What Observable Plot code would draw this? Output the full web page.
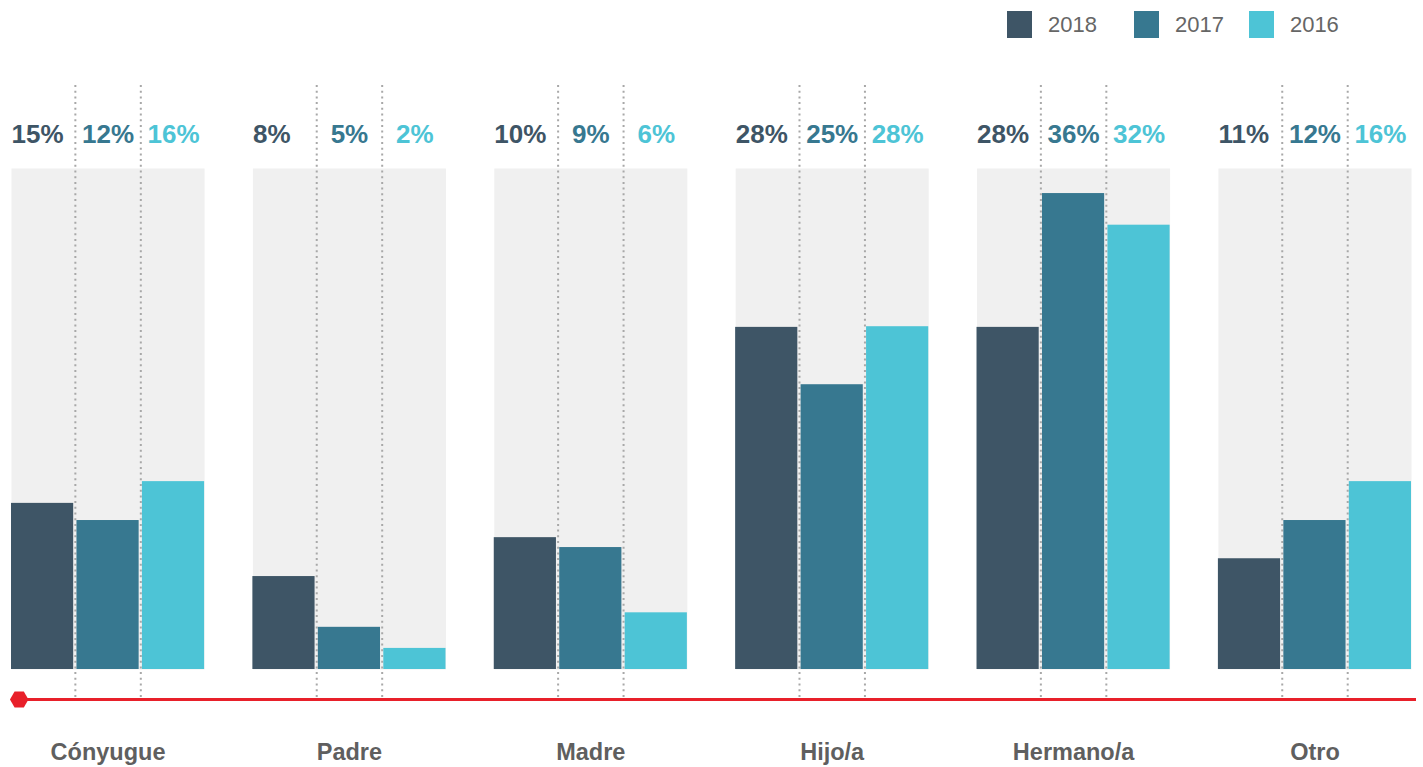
<!DOCTYPE html>
<html>
<head>
<meta charset="utf-8">
<script src="https://cdn.jsdelivr.net/npm/d3@7"></script>
<script src="https://cdn.jsdelivr.net/npm/@observablehq/plot@0.6"></script>
<style>
  html, body { margin: 0; padding: 0; background: #fff; }
  #wrap { position: relative; width: 1423px; height: 767px; font-family: "Liberation Sans", Arial, Helvetica, sans-serif; }
  #legend { position: absolute; top: 11px; left: 1007px; display: flex; align-items: center; }
  .item { display: flex; align-items: center; }
  .sw { width: 25px; height: 27px; display: inline-block; }
  .lab { font-size: 22px; color: #666; margin-left: 16px; }
  #chart { position: absolute; top: 0; left: 0; }
</style>
</head>
<body>
<div id="wrap">
  <div id="chart"></div>
  <div id="legend"></div>
</div>
<script>
const categories = ["Cónyugue", "Padre", "Madre", "Hijo/a", "Hermano/a", "Otro"];
const years = ["2018", "2017", "2016"];
const colors = ["#3e5566", "#377890", "#4dc4d6"];
// bar heights as drawn
const bars2018 = [12.6, 7.05, 10.0, 25.95, 25.95, 8.4];
const bars2017 = [11.3, 3.2, 9.25, 21.6, 36.1, 11.3];
const bars2016 = [14.25, 1.6, 4.3, 26.0, 33.7, 14.25];
// printed percentages
const pct2018 = [15, 8, 10, 28, 28, 11];
const pct2017 = [12, 5, 9, 25, 36, 12];
const pct2016 = [16, 2, 6, 28, 32, 16];
const yMax = 38;

const barsByYear = {"2018": bars2018, "2017": bars2017, "2016": bars2016};
const pctByYear = {"2018": pct2018, "2017": pct2017, "2016": pct2016};
const rows = [];
categories.forEach((c, i) => years.forEach(y => rows.push({cat: c, year: y, v: barsByYear[y][i], label: pctByYear[y][i] + "%"})));

const font = "'Liberation Sans', Arial, Helvetica, sans-serif";
const first = categories[0], last = categories[categories.length - 1];
const middle = categories.slice(1, -1);

const chart = Plot.plot({
  width: 1423,
  height: 767,
  marginTop: 168,
  marginBottom: 98,
  marginLeft: 11,
  marginRight: 12,
  style: {fontFamily: font, background: "transparent"},
  fx: {domain: categories, paddingInner: 0.2, paddingOuter: 0, round: false, axis: null, label: null},
  x: {domain: years, paddingInner: 0.05, paddingOuter: 0, round: false, axis: null, label: null},
  y: {domain: [0, yMax], axis: null, label: null},
  color: {domain: years, range: colors},
  marks: [
    Plot.frame({fill: "#f0f0f0", stroke: null}),
    Plot.ruleX(years.slice(1), {x: d => d, dx: -32.7, stroke: "#a8a8a8", strokeWidth: 2, strokeDasharray: "2,3.7", insetTop: -83, insetBottom: -31}),
    Plot.barY(rows, {fx: "cat", x: "year", y: "v", fill: d => d.year}),
    Plot.text(rows.filter(d => d.year === "2018"), {fx: "cat", x: "year", text: "label", frameAnchor: "top", dy: -44, dx: -31, textAnchor: "start", fill: colors[0], fontSize: 26, fontWeight: "bold"}),
    Plot.text(rows.filter(d => d.year !== "2018"), {fx: "cat", x: "year", text: "label", frameAnchor: "top", dy: -44, fill: d => d.year, fontSize: 26, fontWeight: "bold"}),
    Plot.ruleY([{cat: first, y: 0}], {fx: "cat", y: "y", dy: 30, stroke: "#e8202a", strokeWidth: 3, insetLeft: 8, insetRight: -25}),
    Plot.ruleY(middle.map(c => ({cat: c, y: 0})), {fx: "cat", y: "y", dy: 30, stroke: "#e8202a", strokeWidth: 3, insetLeft: -25, insetRight: -25}),
    Plot.ruleY([{cat: last, y: 0}], {fx: "cat", y: "y", dy: 30, stroke: "#e8202a", strokeWidth: 3, insetLeft: -25, insetRight: -5}),
    Plot.dot([{cat: first, y: 0}], {fx: "cat", y: "y", frameAnchor: "left", dx: 7.7, dy: 30, symbol: "hexagon", rotate: 90, r: 8, fill: "#e8202a", stroke: null}),
    Plot.text(categories, {fx: d => d, text: d => d, frameAnchor: "bottom", dy: 90, fill: "#5f5f5f", fontSize: 23.5, fontWeight: "bold"})
  ]
});
document.getElementById("chart").appendChild(chart);

const legend = document.getElementById("legend");
const gaps = [0, 37, 25];
years.forEach((y, i) => {
  const item = document.createElement("div");
  item.className = "item";
  item.style.marginLeft = gaps[i] + "px";
  const sw = document.createElement("span");
  sw.className = "sw";
  sw.style.background = colors[i];
  const lab = document.createElement("span");
  lab.className = "lab";
  lab.textContent = y;
  item.appendChild(sw);
  item.appendChild(lab);
  legend.appendChild(item);
});
</script>
</body>
</html>
